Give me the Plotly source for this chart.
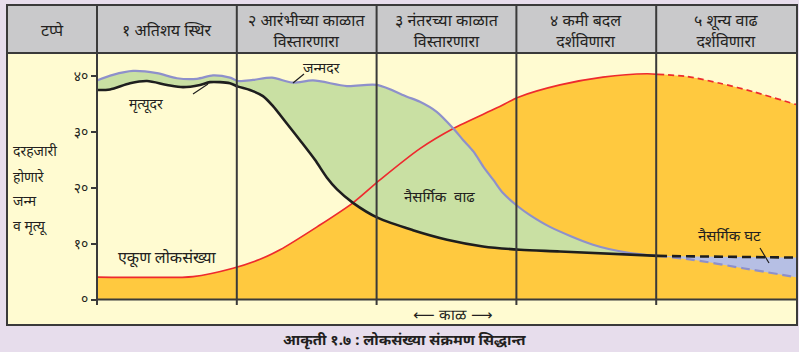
import plotly.graph_objects as go

# ---------------- data ----------------
stage_labels = ["टप्पे", "१ अतिशय स्थिर", "२ आरंभीच्या काळात<br>विस्तारणारा",
                "३ नंतरच्या काळात<br>विस्तारणारा", "४ कमी बदल<br>दर्शविणारा",
                "५ शून्य वाढ<br>दर्शविणारा"]
stage_bounds = [1, 2, 3, 4]
ytick_vals = [0, 10, 20, 30, 40]
ytick_text = ["०", "१०", "२०", "३०", "४०"]
ytitle_lines = ["दरहजारी", "होणारे", "जन्म", "व मृत्यू"]

# birth rate (जन्मदर)
birth_t = [0.000, 0.114, 0.258, 0.429, 0.572, 0.715, 0.830, 0.951, 1.009, 1.116,
           1.252, 1.402, 1.545, 1.788, 2.003, 2.217, 2.310, 2.430, 2.549, 2.620,
           2.692, 2.763, 2.835, 2.906, 3.014, 3.097, 3.240, 3.548, 3.791, 4.013]
birth_v = [39.2, 40.2, 40.9, 40.5, 39.6, 39.5, 40.1, 39.7, 39.1, 39.3,
           39.7, 38.8, 39.2, 38.2, 38.4, 36.3, 35.4, 33.6, 30.6, 28.5,
           26.5, 23.8, 21.4, 19.0, 16.6, 15.1, 13.0, 9.8, 8.4, 7.8]
birth_future_t = [4.013, 4.263, 4.621, 5.0]
birth_future_v = [7.8, 7.1, 5.6, 4.0]

# death rate (मृत्यूदर)
death_t = [0.000, 0.093, 0.236, 0.358, 0.501, 0.615, 0.737, 0.808, 0.951, 1.009,
           1.094, 1.187, 1.259, 1.345, 1.452, 1.559, 1.645, 1.717, 1.831, 2.010,
           2.260, 2.504, 2.761, 3.026, 3.312, 4.013]
death_v = [37.5, 37.6, 38.7, 39.1, 38.4, 38.0, 38.4, 38.9, 38.7, 38.1,
           37.5, 36.4, 34.6, 31.9, 28.5, 25.0, 21.8, 19.7, 17.3, 14.6,
           12.4, 10.7, 9.5, 8.9, 8.6, 7.8]
death_future_t = [4.013, 5.0]
death_future_v = [7.8, 7.5]

# total population (एकूण लोकसंख्या)
pop_t = [0.000, 0.379, 0.687, 0.973, 1.166, 1.309, 1.574, 1.831, 2.024, 2.310, 2.549,
         2.861, 3.014, 3.312, 3.619, 3.934, 4.013]
pop_v = [4.0, 3.95, 4.1, 5.6, 7.2, 8.9, 13.0, 17.3, 21.4, 27.0, 30.6,
         34.3, 36.2, 38.4, 39.8, 40.4, 40.3]
pop_future_t = [4.013, 4.220, 4.456, 4.692, 5.0]
pop_future_v = [40.3, 39.9, 38.7, 37.2, 34.9]

# ---------------- geometry / style ----------------
W, H = 799, 352
PX0, PX1, PY0, PY1 = 97, 796, 53, 325     # plot area in pixels
XR = [0, 5]
YR = [-4.564, 44.116]

def xpap(px):
    return (px - PX0) / (PX1 - PX0)

def ypap(py):
    return (PY1 - py) / (PY1 - PY0)

def xdat(px):
    return XR[0] + (px - PX0) / (PX1 - PX0) * (XR[1] - XR[0])

def ydat(py):
    return YR[0] + (PY1 - py) / (PY1 - PY0) * (YR[1] - YR[0])

LAV = "#E7DDEC"
CREAM = "#FFFBD1"
GRAY = "#C9C9CB"
ORANGE = "#FFC93F"
GREEN = "#C9E0A3"
PURPLE = "#8E90CB"
PURPLE_FILL = "#B6BFE4"
RED = "#EE2A2E"
BLACK = "#1E1E1E"
BORDER = "#3A3A3A"
TXT = "#231F20"
FONT = "Noto Sans, DejaVu Sans, sans-serif"

fig = go.Figure()
common = dict(mode="lines", hoverinfo="skip", showlegend=False)
SPL = dict(shape="spline", smoothing=0.8)

# orange population fill
fig.add_trace(go.Scatter(x=pop_t + pop_future_t[1:], y=pop_v + pop_future_v[1:],
                         fill="tozeroy", fillcolor=ORANGE,
                         line=dict(width=0, **SPL), **common))
# green natural increase
fig.add_trace(go.Scatter(x=death_t, y=death_v, line=dict(width=0, **SPL), **common))
fig.add_trace(go.Scatter(x=birth_t, y=birth_v, fill="tonexty", fillcolor=GREEN,
                         line=dict(width=0, **SPL), **common))
# purple natural decrease
fig.add_trace(go.Scatter(x=death_future_t, y=death_future_v, line=dict(width=0), **common))
fig.add_trace(go.Scatter(x=birth_future_t, y=birth_future_v, fill="tonexty",
                         fillcolor=PURPLE_FILL, line=dict(width=0, **SPL), **common))
# lines
fig.add_trace(go.Scatter(x=pop_t, y=pop_v, line=dict(color=RED, width=1.7, **SPL), **common))
fig.add_trace(go.Scatter(x=pop_future_t, y=pop_future_v,
                         line=dict(color=RED, width=1.7, dash="6px,4px", **SPL), **common))
fig.add_trace(go.Scatter(x=birth_t, y=birth_v, line=dict(color=PURPLE, width=2.2, **SPL), **common))
fig.add_trace(go.Scatter(x=birth_future_t, y=birth_future_v,
                         line=dict(color=PURPLE, width=2.2, dash="9px,5px", **SPL), **common))
fig.add_trace(go.Scatter(x=death_t, y=death_v, line=dict(color=BLACK, width=2.6, **SPL), **common))
fig.add_trace(go.Scatter(x=death_future_t, y=death_future_v,
                         line=dict(color=BLACK, width=2.6, dash="9px,5px"), **common))

shapes = []
# body & header backgrounds
shapes.append(dict(type="rect", xref="paper", yref="paper", x0=xpap(7), x1=xpap(797),
                   y0=ypap(325), y1=ypap(5), fillcolor=CREAM, line=dict(width=0), layer="below"))
shapes.append(dict(type="rect", xref="paper", yref="paper", x0=xpap(7), x1=xpap(797),
                   y0=ypap(53), y1=ypap(5), fillcolor=GRAY, line=dict(width=0), layer="below"))
# header bottom line
shapes.append(dict(type="line", xref="paper", yref="paper", x0=xpap(7), x1=xpap(797),
                   y0=ypap(53), y1=ypap(53), line=dict(color=BORDER, width=2)))
# y axis line
shapes.append(dict(type="line", xref="paper", yref="paper", x0=0, x1=0,
                   y0=ypap(305), y1=ypap(5), line=dict(color=BORDER, width=2)))
# stage boundaries
for b in stage_bounds:
    shapes.append(dict(type="line", xref="x", yref="paper", x0=b, x1=b,
                       y0=ypap(305), y1=ypap(5), line=dict(color=BORDER, width=2)))
# zero line
shapes.append(dict(type="line", xref="paper", yref="y", x0=0, x1=xpap(797),
                   y0=0, y1=0, line=dict(color=BORDER, width=2)))
# outer border
shapes.append(dict(type="rect", xref="paper", yref="paper", x0=xpap(7), x1=xpap(797),
                   y0=ypap(325), y1=ypap(5), line=dict(color=BORDER, width=2)))
# leader lines
for (a, b, c, d) in [(293, 83, 304, 74), (193, 94, 208, 84), (760, 248, 769, 263)]:
    shapes.append(dict(type="line", xref="x", yref="y", x0=xdat(a), y0=ydat(b),
                       x1=xdat(c), y1=ydat(d), line=dict(color=BLACK, width=1.2)))

ann = []
# header labels
ann.append(dict(x=xpap(52), xref="paper", y=ypap(30), yref="paper", text=stage_labels[0],
                xanchor="center", yanchor="middle",
                showarrow=False, font=dict(size=16, color=TXT, family=FONT)))
for i, lab in enumerate(stage_labels[1:]):
    ann.append(dict(x=i + 0.5, xref="x", y=ypap(30), yref="paper", text=lab,
                    xanchor="center", yanchor="middle",
                    showarrow=False, font=dict(size=16, color=TXT, family=FONT)))
# y title
for lab, py in zip(ytitle_lines, [150, 176, 200, 226]):
    ann.append(dict(x=xpap(11), xref="paper", y=ypap(py), yref="paper", text=lab,
                    xanchor="left", yanchor="middle",
                    showarrow=False, font=dict(size=14, color=TXT, family=FONT)))
# in-chart labels
for lab, px, py, fs, fam in [("जन्मदर", 321, 67, 14, FONT), ("मृत्यूदर", 146, 104, 14, FONT),
                             ("एकूण लोकसंख्या", 167, 257, 16, FONT),
                             ("नैसर्गिक&nbsp;&nbsp;वाढ", 439, 196, 15, FONT),
                             ("नैसर्गिक घट", 729, 235, 15, FONT),
                             ("⟵ काळ ⟶", 453, 315, 15, "DejaVu Sans, sans-serif")]:
    ann.append(dict(x=xdat(px), xref="x", y=ydat(py), yref="y", text=lab,
                    xanchor="center", yanchor="middle",
                    showarrow=False, font=dict(size=fs, color=TXT, family=fam)))
# caption
ann.append(dict(x=xpap(404), xref="paper", y=ypap(339), yref="paper",
                text="<b>आकृती १.७ : लोकसंख्या संक्रमण सिद्धान्त</b>",
                xanchor="center", yanchor="middle",
                showarrow=False, font=dict(size=15, color=TXT, family=FONT)))

fig.update_layout(
    width=W, height=H,
    margin=dict(l=PX0, r=W - PX1, t=PY0, b=H - PY1, pad=0),
    paper_bgcolor=LAV, plot_bgcolor="rgba(0,0,0,0)",
    xaxis=dict(range=XR, showgrid=False, zeroline=False, showticklabels=False,
               showline=False, ticks=""),
    yaxis=dict(range=YR, showgrid=False, zeroline=False, showline=False,
               tickvals=ytick_vals, ticktext=ytick_text, ticks="outside", ticklen=5,
               tickwidth=1.5, tickcolor=BORDER,
               tickfont=dict(size=14, color=TXT, family=FONT)),
    shapes=shapes, annotations=ann,
)
fig.write_html("out.html")
